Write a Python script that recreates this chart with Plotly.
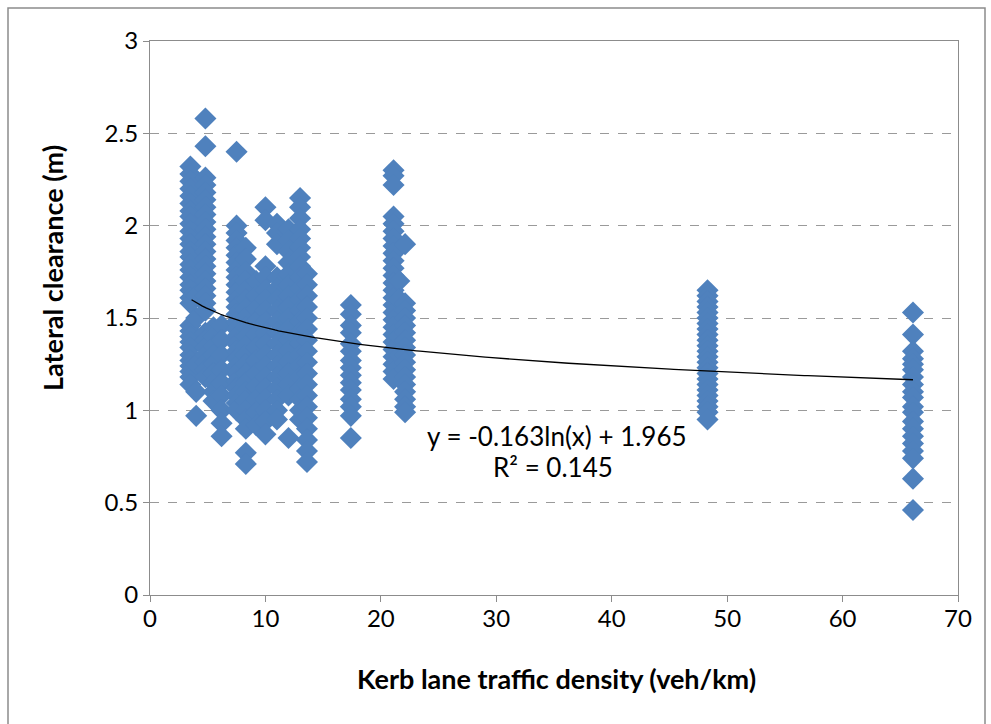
import numpy as np
import plotly.graph_objects as go

# Columns of observations: kerb-lane density (veh/km) -> lateral clearance values (m)
col_x = [3.5, 4.0, 4.8, 5.5, 6.2, 7.5, 8.3, 9.2, 10.0, 11.0, 12.0, 13.0, 13.6,
         17.4, 21.1, 21.6, 22.1, 48.3, 66.1]
col_y = [
    [2.32, 2.28, 2.24, 2.20, 2.16, 2.12, 2.08, 2.05, 2.01, 1.97, 1.93, 1.90, 1.86, 1.83,
     1.79, 1.76, 1.72, 1.68, 1.65, 1.61, 1.58, 1.46, 1.43, 1.40, 1.37, 1.34, 1.30, 1.27,
     1.24, 1.21, 1.18, 1.14],
    [0.97, 1.10, 1.25, 1.50, 1.62],
    [2.58, 2.43, 2.26, 2.22, 2.18, 2.14, 2.10, 2.06, 2.02, 1.98, 1.94, 1.90, 1.86, 1.82,
     1.78, 1.74, 1.70, 1.66, 1.62, 1.58, 1.54, 1.42, 1.38, 1.34, 1.30, 1.26, 1.22, 1.18],
    [1.45, 1.40, 1.35, 1.30, 1.25, 1.20, 1.15, 1.10, 1.05],
    [1.46, 1.38, 1.30, 1.22, 1.15, 1.08, 1.00, 0.93, 0.86],
    [2.40, 2.00, 1.96, 1.92, 1.88, 1.84, 1.80, 1.76, 1.72, 1.68, 1.64, 1.60, 1.56, 1.52,
     1.48, 1.44, 1.40, 1.36, 1.32, 1.28, 1.24, 1.20, 1.16, 1.12, 1.08, 1.04, 1.00],
    [1.88, 1.82, 1.75, 1.70, 1.65, 1.60, 1.55, 1.50, 1.45, 1.40, 1.35, 1.30, 1.25, 1.20,
     1.15, 1.10, 1.05, 1.00, 0.95, 0.90, 0.77, 0.71],
    [1.70, 1.62, 1.55, 1.48, 1.41, 1.34, 1.27, 1.20, 1.13, 1.06, 0.99, 0.92],
    [2.10, 2.03, 1.78, 1.72, 1.65, 1.60, 1.54, 1.48, 1.42, 1.36, 1.30, 1.24, 1.18, 1.12,
     1.06, 1.00, 0.94, 0.87],
    [2.01, 1.96, 1.90, 1.72, 1.66, 1.60, 1.54, 1.48, 1.42, 1.36, 1.30, 1.24, 1.18, 1.12,
     1.06, 1.00, 0.95],
    [1.98, 1.92, 1.86, 1.80, 1.74, 1.68, 1.62, 1.56, 1.50, 1.44, 1.38, 1.32, 1.26, 1.20,
     1.14, 1.08, 0.85],
    [2.15, 2.10, 2.04, 1.98, 1.93, 1.88, 1.83, 1.78, 1.72, 1.66, 1.60, 1.54, 1.48, 1.42,
     1.36, 1.30, 1.24, 1.18, 1.12, 1.06, 1.00, 0.95],
    [1.74, 1.68, 1.62, 1.56, 1.50, 1.44, 1.38, 1.32, 1.26, 1.20, 1.14, 1.08, 1.02, 0.96,
     0.90, 0.84, 0.78, 0.72],
    [1.57, 1.52, 1.46, 1.42, 1.36, 1.32, 1.27, 1.23, 1.19, 1.15, 1.11, 1.06, 1.02, 0.97,
     0.85],
    [2.30, 2.27, 2.22, 2.05, 2.01, 1.97, 1.93, 1.89, 1.85, 1.81, 1.77, 1.73, 1.69, 1.65,
     1.61, 1.57, 1.53, 1.49, 1.45, 1.41, 1.37, 1.33, 1.29, 1.25, 1.21, 1.17],
    [1.70, 1.60, 1.40, 1.30],
    [1.90, 1.58, 1.54, 1.50, 1.46, 1.42, 1.38, 1.34, 1.30, 1.26, 1.22, 1.18, 1.14, 1.10,
     1.06, 1.02, 0.99],
    [1.65, 1.62, 1.59, 1.56, 1.53, 1.50, 1.47, 1.44, 1.41, 1.38, 1.35, 1.32, 1.29, 1.26,
     1.23, 1.20, 1.17, 1.14, 1.11, 1.08, 1.05, 1.02, 0.99, 0.95],
    [1.53, 1.41, 1.32, 1.28, 1.25, 1.22, 1.18, 1.14, 1.10, 1.07, 1.02, 0.99, 0.94, 0.90,
     0.86, 0.82, 0.78, 0.74, 0.63, 0.46],
]

# Logarithmic trendline as drawn (a*ln(x)+b) and its plotted extent
trend_a = -0.149
trend_b = 1.790
trend_x_range = [3.6, 66.1]
eq_text = "y = -0.163ln(x) + 1.965"
r2_text = "R² = 0.145"

x_ticks = [0, 10, 20, 30, 40, 50, 60, 70]
y_ticks = [0, 0.5, 1, 1.5, 2, 2.5, 3]
y_ticktext = ["0", "0.5", "1", "1.5", "2", "2.5", "3"]

xs, ys = [], []
for cx, cy in zip(col_x, col_y):
    xs += [cx] * len(cy)
    ys += cy

tx = np.linspace(trend_x_range[0], trend_x_range[1], 200)
ty = trend_a * np.log(tx) + trend_b

FONT = "Lato"
GRAY = "#8c8c8c"


def px_x(p):
    return (p - 150) / 808


def px_y(p):
    return (595 - p) / 554


fig = go.Figure()
fig.add_trace(go.Scatter(x=xs, y=ys, mode="markers",
                         marker=dict(symbol="diamond", size=17, color="#4f81bd",
                                     line=dict(width=0)),
                         hoverinfo="x+y", showlegend=False))
fig.add_trace(go.Scatter(x=tx, y=ty, mode="lines",
                         line=dict(color="black", width=1.3), showlegend=False))

fig.update_layout(
    width=991, height=724,
    margin=dict(l=150, r=33, t=41, b=129),
    paper_bgcolor="white", plot_bgcolor="white",
    font=dict(family=FONT, size=24, color="black"),
    xaxis=dict(range=[0, 70], tickvals=x_ticks, ticks="outside", ticklen=6,
               tickcolor=GRAY, showline=True, linecolor=GRAY, linewidth=1.2,
               mirror=True, showgrid=False, zeroline=False,
               tickfont=dict(size=24), ticklabelstandoff=-4),
    yaxis=dict(range=[0, 3], tickvals=y_ticks, ticktext=y_ticktext,
               ticks="outside", ticklen=6,
               tickcolor=GRAY, showline=True, linecolor=GRAY, linewidth=1.2,
               mirror=True, showgrid=True, gridcolor="#9a9a9a", griddash="dash",
               gridwidth=1, zeroline=False, tickfont=dict(size=24)),
    annotations=[
        dict(x=px_x(557), y=px_y(436), xref="paper", yref="paper",
             xanchor="center", yanchor="middle",
             text=eq_text, showarrow=False, font=dict(size=26)),
        dict(x=px_x(553), y=px_y(467), xref="paper", yref="paper",
             xanchor="center", yanchor="middle",
             text=r2_text, showarrow=False, font=dict(size=26)),
        dict(x=px_x(556), y=px_y(678), xref="paper", yref="paper",
             xanchor="center", yanchor="middle",
             text="<b>Kerb lane traffic density (veh/km)</b>", showarrow=False,
             font=dict(size=27)),
        dict(x=px_x(52), y=px_y(268), xref="paper", yref="paper",
             xanchor="center", yanchor="middle",
             text="<b>Lateral clearance (m)</b>", showarrow=False, textangle=-90,
             font=dict(size=27)),
    ],
    shapes=[dict(type="rect", xref="paper", yref="paper",
                 x0=px_x(8), x1=px_x(985),
                 y0=px_y(760), y1=px_y(8),
                 line=dict(color=GRAY, width=1.5), layer="below")],
)

fig.write_html("out.html")
